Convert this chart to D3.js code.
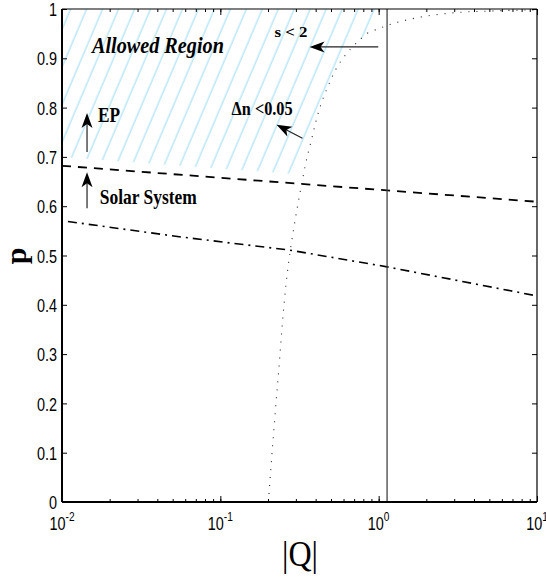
<!DOCTYPE html>
<html><head><meta charset="utf-8">
<script src="https://cdn.jsdelivr.net/npm/d3@7"></script>
<style>body{margin:0;background:#fff}</style>
</head><body><svg id="c" width="546" height="577"></svg>
<script>
// ---- data ----
const qTicks = [0.01, 0.1, 1, 10];
const qExps = ["-2", "-1", "0", "1"];
const pTicks = [0, 0.1, 0.2, 0.3, 0.4, 0.5, 0.6, 0.7, 0.8, 0.9, 1];
const pLabels = ["0", "0.1", "0.2", "0.3", "0.4", "0.5", "0.6", "0.7", "0.8", "0.9", "1"];

// Solar System bound (dashed)
const solarQ = [0.01, 10];
const solarP = [0.682, 0.609];
// EP bound (edge of allowed region, not drawn)
const epQ = [0.01, 0.33];
const epP = [0.700, 0.664];
// dash-dot curve
const ddQ = [0.0109, 0.055, 0.2735, 1.13, 10];
const ddP = [0.569, 0.538, 0.511, 0.477, 0.418];
// Δn < 0.05 curve (dotted)
const dnQ = [0.201, 0.2297, 0.2735, 0.330, 0.350, 0.376, 0.404, 0.441, 0.489, 0.565, 0.723, 0.847, 1.167, 1.73, 2.91, 5.20, 9.29, 10];
const dnP = [0.0, 0.237, 0.499, 0.653, 0.694, 0.734, 0.775, 0.815, 0.850, 0.890, 0.931, 0.951, 0.968, 0.982, 0.992, 0.996, 0.998, 0.998];
// s < 2 bound (vertical line)
const sQ = 1.13;
// allowed region right edge (top)
const regionTopQ = 1.084;

// annotations
const arrowNames = ["s", "dn", "ep", "solar"];
const arrowTailQ = [0.994, 0.330, 0.01439, 0.01439];
const arrowTailP = [0.923, 0.738, 0.710, 0.596];
const arrowTipQ = [0.366, 0.2265, 0.01439, 0.01439];
const arrowTipP = [0.923, 0.765, 0.789, 0.669];

const labelTexts = ["Allowed Region", "s < 2", "\u0394n <0.05", "EP", "Solar System"];
const labelQ = [0.01545, 0.2198, 0.1178, 0.01686, 0.01734];
const labelP = [0.911, 0.943, 0.785, 0.771, 0.604];

// ---- layout ----
const L = 62, R = 537, T = 9, B = 502;
const svg = d3.select("#c");
const x = d3.scaleLog().domain([0.01, 10]).range([L, R]);
const y = d3.scaleLinear().domain([0, 1]).range([B, T]);

const defs = svg.append("defs");
const pat = defs.append("pattern").attr("id", "hatch")
  .attr("patternUnits", "userSpaceOnUse").attr("width", 14.7).attr("height", 20)
  .attr("patternTransform", "translate(3,0) rotate(23)");
pat.append("line").attr("x1", 7).attr("x2", 7).attr("y1", -2).attr("y2", 22)
  .attr("stroke", "#a3def5").attr("stroke-width", 1.1);

// allowed region polygon
const region = [];
region.push([0.01, 1]);
region.push([regionTopQ, 1]);
for (let i = dnQ.length - 1; i >= 0; i--) {
  if (dnQ[i] <= 0.85 && dnP[i] >= 0.67) region.push([dnQ[i], dnP[i]]);
}
region.push([epQ[1], epP[1]]);
region.push([epQ[0], epP[0]]);
svg.append("path")
  .attr("d", d3.line().x(d => x(d[0])).y(d => y(d[1]))(region) + "Z")
  .attr("fill", "url(#hatch)").attr("stroke", "none");

const line = d3.line().x(d => x(d[0])).y(d => y(d[1]));
const zip = (a, b) => a.map((v, i) => [v, b[i]]);

// curves
svg.append("path").attr("d", line(zip(solarQ, solarP)))
  .attr("fill", "none").attr("stroke", "#000").attr("stroke-width", 1.8)
  .attr("stroke-dasharray", "9,7");
svg.append("path").attr("d", line(zip(ddQ, ddP)))
  .attr("fill", "none").attr("stroke", "#000").attr("stroke-width", 1.6)
  .attr("stroke-dasharray", "9,5,2,5");
svg.append("path").attr("d", d3.line().curve(d3.curveMonotoneY).x(d => x(d[0])).y(d => y(d[1]))(zip(dnQ, dnP).slice(0, 12)) )
  .attr("fill", "none").attr("stroke", "#222").attr("stroke-width", 1.1)
  .attr("stroke-dasharray", "1,7");
svg.append("path").attr("d", d3.line().curve(d3.curveMonotoneX).x(d => x(d[0])).y(d => y(d[1]))(zip(dnQ, dnP).slice(11)) )
  .attr("fill", "none").attr("stroke", "#222").attr("stroke-width", 1.1)
  .attr("stroke-dasharray", "1,7");
svg.append("line").attr("x1", x(sQ)).attr("x2", x(sQ)).attr("y1", y(0)).attr("y2", y(1))
  .attr("stroke", "#444").attr("stroke-width", 1.3);

// axes
const gx = svg.append("g").attr("transform", `translate(0,${B})`);
gx.call(d3.axisBottom(x).tickValues(x.ticks()).tickSize(-3).tickFormat(""));
gx.append("g").call(d3.axisBottom(x).tickValues(qTicks).tickSize(-6).tickFormat(""));
const gt = svg.append("g").attr("transform", `translate(0,${T})`);
gt.call(d3.axisTop(x).tickValues(x.ticks()).tickSize(-3).tickFormat(""));
gt.append("g").call(d3.axisTop(x).tickValues(qTicks).tickSize(-6).tickFormat(""));
const gy = svg.append("g").attr("transform", `translate(${L},0)`);
gy.call(d3.axisLeft(y).tickValues(pTicks).tickSize(-5).tickPadding(5).tickFormat((d, i) => pLabels[i]));
const gr = svg.append("g").attr("transform", `translate(${R},0)`);
gr.call(d3.axisRight(y).tickValues(pTicks).tickSize(-5).tickFormat(""));
svg.selectAll(".domain").remove();
svg.selectAll(".tick line").attr("stroke", "#000").attr("stroke-width", 1);

gy.selectAll(".tick text").each(function () {
  const t = d3.select(this);
  const xx = +t.attr("x");
  t.attr("x", 0).attr("transform", `translate(${xx},0) scale(0.78,1)`)
    .attr("font-family", "Liberation Sans, Arial, sans-serif").attr("font-size", 18.5)
    .attr("fill", "#000").attr("dy", "0.36em");
});

// x tick labels 10^n
const xl = svg.append("g");
qTicks.forEach((q, i) => {
  const t = xl.append("text")
    .attr("transform", `translate(${x(q)},530) scale(0.78,1)`)
    .attr("text-anchor", "middle")
    .attr("font-family", "Liberation Sans, Arial, sans-serif").attr("fill", "#000");
  t.append("tspan").attr("font-size", 18.5).text("10");
  t.append("tspan").attr("font-size", 13).attr("dy", -9).text(qExps[i]);
});

// frame
svg.append("line").attr("x1", L).attr("x2", L).attr("y1", T).attr("y2", B).attr("stroke", "#000").attr("stroke-width", 2);
svg.append("line").attr("x1", L).attr("x2", R).attr("y1", B).attr("y2", B).attr("stroke", "#000").attr("stroke-width", 2);
svg.append("line").attr("x1", L).attr("x2", R).attr("y1", T).attr("y2", T).attr("stroke", "#000").attr("stroke-width", 1.2);
svg.append("line").attr("x1", R).attr("x2", R).attr("y1", T).attr("y2", B).attr("stroke", "#000").attr("stroke-width", 1.2);

// axis titles
svg.append("text").attr("transform", "translate(26,256) rotate(-90)")
  .attr("text-anchor", "middle").attr("font-family", "Liberation Serif, Times New Roman, serif")
  .attr("font-weight", "bold").attr("font-size", 30).text("p");
svg.append("text").attr("x", 300).attr("y", 566)
  .attr("text-anchor", "middle").attr("font-family", "Liberation Serif, Times New Roman, serif")
  .attr("font-size", 35).attr("textLength", 36).attr("lengthAdjust", "spacingAndGlyphs").text("|Q|");

// annotation texts
const labelSize = [23, 15.5, 18, 20, 21];
const labelLen = [132, 33, 61, 22, 97];
const labelItalic = [true, false, false, false, false];
labelTexts.forEach((s, i) => {
  svg.append("text").attr("x", x(labelQ[i])).attr("y", y(labelP[i]))
    .attr("font-family", "Liberation Serif, Times New Roman, serif")
    .attr("font-weight", "bold").attr("font-style", labelItalic[i] ? "italic" : "normal")
    .attr("font-size", labelSize[i])
    .attr("textLength", labelLen[i]).attr("lengthAdjust", "spacingAndGlyphs")
    .attr("fill", "#000").text(s);
});

// arrows
arrowNames.forEach((n, i) => {
  const x0 = x(arrowTailQ[i]), y0 = y(arrowTailP[i]);
  const x1 = x(arrowTipQ[i]), y1 = y(arrowTipP[i]);
  const dx = x1 - x0, dy = y1 - y0, len = Math.hypot(dx, dy);
  const ux = dx / len, uy = dy / len, px = -uy, py = ux;
  const hl = 15, hw = 5.5, notch = 4;
  svg.append("line").attr("x1", x0).attr("y1", y0)
    .attr("x2", x1 - ux * 8).attr("y2", y1 - uy * 8)
    .attr("stroke", "#222").attr("stroke-width", 1.2);
  const bx = x1 - ux * hl, by = y1 - uy * hl;
  const pts = [[x1, y1], [bx + px * hw, by + py * hw], [x1 - ux * (hl - notch), y1 - uy * (hl - notch)], [bx - px * hw, by - py * hw]];
  svg.append("path").attr("d", "M" + pts.map(p => p.join(",")).join("L") + "Z").attr("fill", "#000");
});
</script>
</body></html>
